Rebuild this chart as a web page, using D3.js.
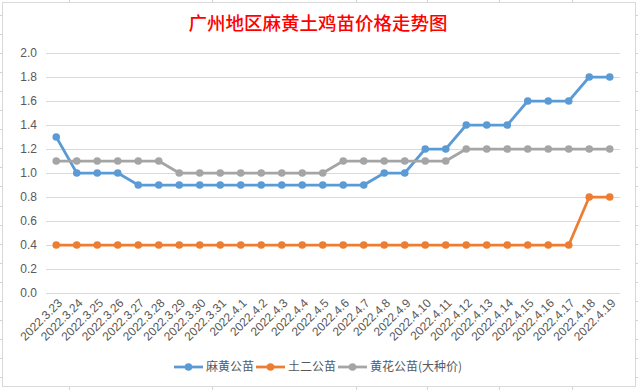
<!DOCTYPE html>
<html>
<head>
<meta charset="utf-8">
<script src="https://cdn.jsdelivr.net/npm/d3@7"></script>
<style>
  body { margin: 0; background: #fff; }
  svg { display: block; }
</style>
</head>
<body>
<svg id="chart" width="638" height="390"></svg>
<script>
var dates = ['2022.3.23','2022.3.24','2022.3.25','2022.3.26','2022.3.27','2022.3.28','2022.3.29',
  '2022.3.30','2022.3.31','2022.4.1','2022.4.2','2022.4.3','2022.4.4','2022.4.5','2022.4.6',
  '2022.4.7','2022.4.8','2022.4.9','2022.4.10','2022.4.11','2022.4.12','2022.4.13','2022.4.14',
  '2022.4.15','2022.4.16','2022.4.17','2022.4.18','2022.4.19'];

var mahuang = [1.3,1.0,1.0,1.0,0.9,0.9,0.9,0.9,0.9,0.9,0.9,0.9,0.9,0.9,0.9,0.9,1.0,1.0,1.2,1.2,1.4,1.4,1.4,1.6,1.6,1.6,1.8,1.8];
var tuer = [0.4,0.4,0.4,0.4,0.4,0.4,0.4,0.4,0.4,0.4,0.4,0.4,0.4,0.4,0.4,0.4,0.4,0.4,0.4,0.4,0.4,0.4,0.4,0.4,0.4,0.4,0.8,0.8];
var huanghua = [1.1,1.1,1.1,1.1,1.1,1.1,1.0,1.0,1.0,1.0,1.0,1.0,1.0,1.0,1.1,1.1,1.1,1.1,1.1,1.1,1.2,1.2,1.2,1.2,1.2,1.2,1.2,1.2];

var seriesNames = ['麻黄公苗', '土二公苗', '黄花公苗(大种价)'];
var yTicks = [0,0.2,0.4,0.6,0.8,1.0,1.2,1.4,1.6,1.8,2.0];
var title = '广州地区麻黄土鸡苗价格走势图';

var colors = ['#5B9BD5', '#ED7D31', '#A5A5A5'];
var series = [mahuang, tuer, huanghua];

var dims = {
  width: 638, height: 390,
  left: 46, right: 620, top: 53, bottom: 293
};

var svg = d3.select('#chart');

// excel sheet grid behind the chart
var sheetCols = [69, 212, 356, 427, 499, 572];
for (var i in sheetCols) {
  svg.append('line')
    .attr('x1', sheetCols[i] + 0.5).attr('x2', sheetCols[i] + 0.5)
    .attr('y1', 0).attr('y2', dims.height)
    .attr('stroke', '#D4D4D4');
}
for (var r = 0; r < 21; r++) {
  var ry = Math.round(15 + r * 19.05) + 0.5;
  svg.append('line')
    .attr('x1', 0).attr('x2', dims.width)
    .attr('y1', ry).attr('y2', ry)
    .attr('stroke', '#D4D4D4');
}

// chart box
svg.append('rect')
  .attr('x', 2.5).attr('y', 2.5)
  .attr('width', 633).attr('height', 384)
  .attr('fill', 'white')
  .attr('stroke', '#D9D9D9');

svg.append('text')
  .attr('x', 318).attr('y', 30)
  .attr('text-anchor', 'middle')
  .attr('fill', '#FF0000')
  .attr('font-family', '"Noto Sans CJK SC", sans-serif')
  .attr('font-weight', 500)
  .attr('font-size', 18.5)
  .text(title);

var x = d3.scaleBand().domain(dates).range([dims.left, dims.right]);
var y = d3.scaleLinear().domain([0, 2]).range([dims.bottom, dims.top]);

// gridlines
var yAxis = d3.axisLeft(y)
  .tickValues(yTicks)
  .tickFormat(d3.format('.1f'))
  .tickSize(-(dims.right - dims.left))
  .tickPadding(9);

var gy = svg.append('g')
  .attr('transform', 'translate(' + dims.left + ',0)')
  .call(yAxis);
gy.select('.domain').remove();
gy.selectAll('.tick line').attr('stroke', '#D9D9D9');
gy.selectAll('.tick text')
  .attr('fill', '#595959')
  .attr('font-family', '"Liberation Sans", Arial, sans-serif')
  .attr('font-size', 12);

// category labels
var xAxis = d3.axisBottom(x).tickSize(0).tickPadding(0);
var gx = svg.append('g')
  .attr('transform', 'translate(0,' + dims.bottom + ')')
  .call(xAxis);
gx.select('.domain').remove();
gx.selectAll('.tick text')
  .attr('fill', '#595959')
  .attr('font-family', '"Liberation Sans", Arial, sans-serif')
  .attr('font-size', 12)
  .attr('text-anchor', 'end')
  .attr('dy', '0.2em')
  .attr('transform', 'translate(5,9) rotate(-45)');

var line = d3.line()
  .x(function(d, i) { return x(dates[i]) + x.bandwidth() / 2; })
  .y(function(d) { return y(d); });

series.forEach(function(s, k) {
  svg.append('path')
    .datum(s)
    .attr('d', line)
    .attr('fill', 'none')
    .attr('stroke', colors[k])
    .attr('stroke-width', 2.75)
    .attr('stroke-linejoin', 'round');

  svg.selectAll('.dot' + k)
    .data(s)
    .enter().append('circle')
    .attr('cx', function(d, i) { return x(dates[i]) + x.bandwidth() / 2; })
    .attr('cy', function(d) { return y(d); })
    .attr('r', 3.8)
    .attr('fill', colors[k]);
});

// legend
var legendX = [174, 256, 338];
var legendY = 367;
seriesNames.forEach(function(name, k) {
  var g = svg.append('g').attr('transform', 'translate(' + legendX[k] + ',' + legendY + ')');
  g.append('line')
    .attr('x1', 0).attr('x2', 29)
    .attr('y1', 0).attr('y2', 0)
    .attr('stroke', colors[k])
    .attr('stroke-width', 2.75);
  g.append('circle').attr('cx', 14.5).attr('cy', 0).attr('r', 3.8).attr('fill', colors[k]);
  g.append('text')
    .attr('x', 32).attr('y', 0)
    .attr('dy', '0.35em')
    .attr('fill', '#595959')
    .attr('font-family', '"Noto Sans CJK SC", sans-serif')
    .attr('font-size', 12)
    .text(name);
});
</script>
</body>
</html>
